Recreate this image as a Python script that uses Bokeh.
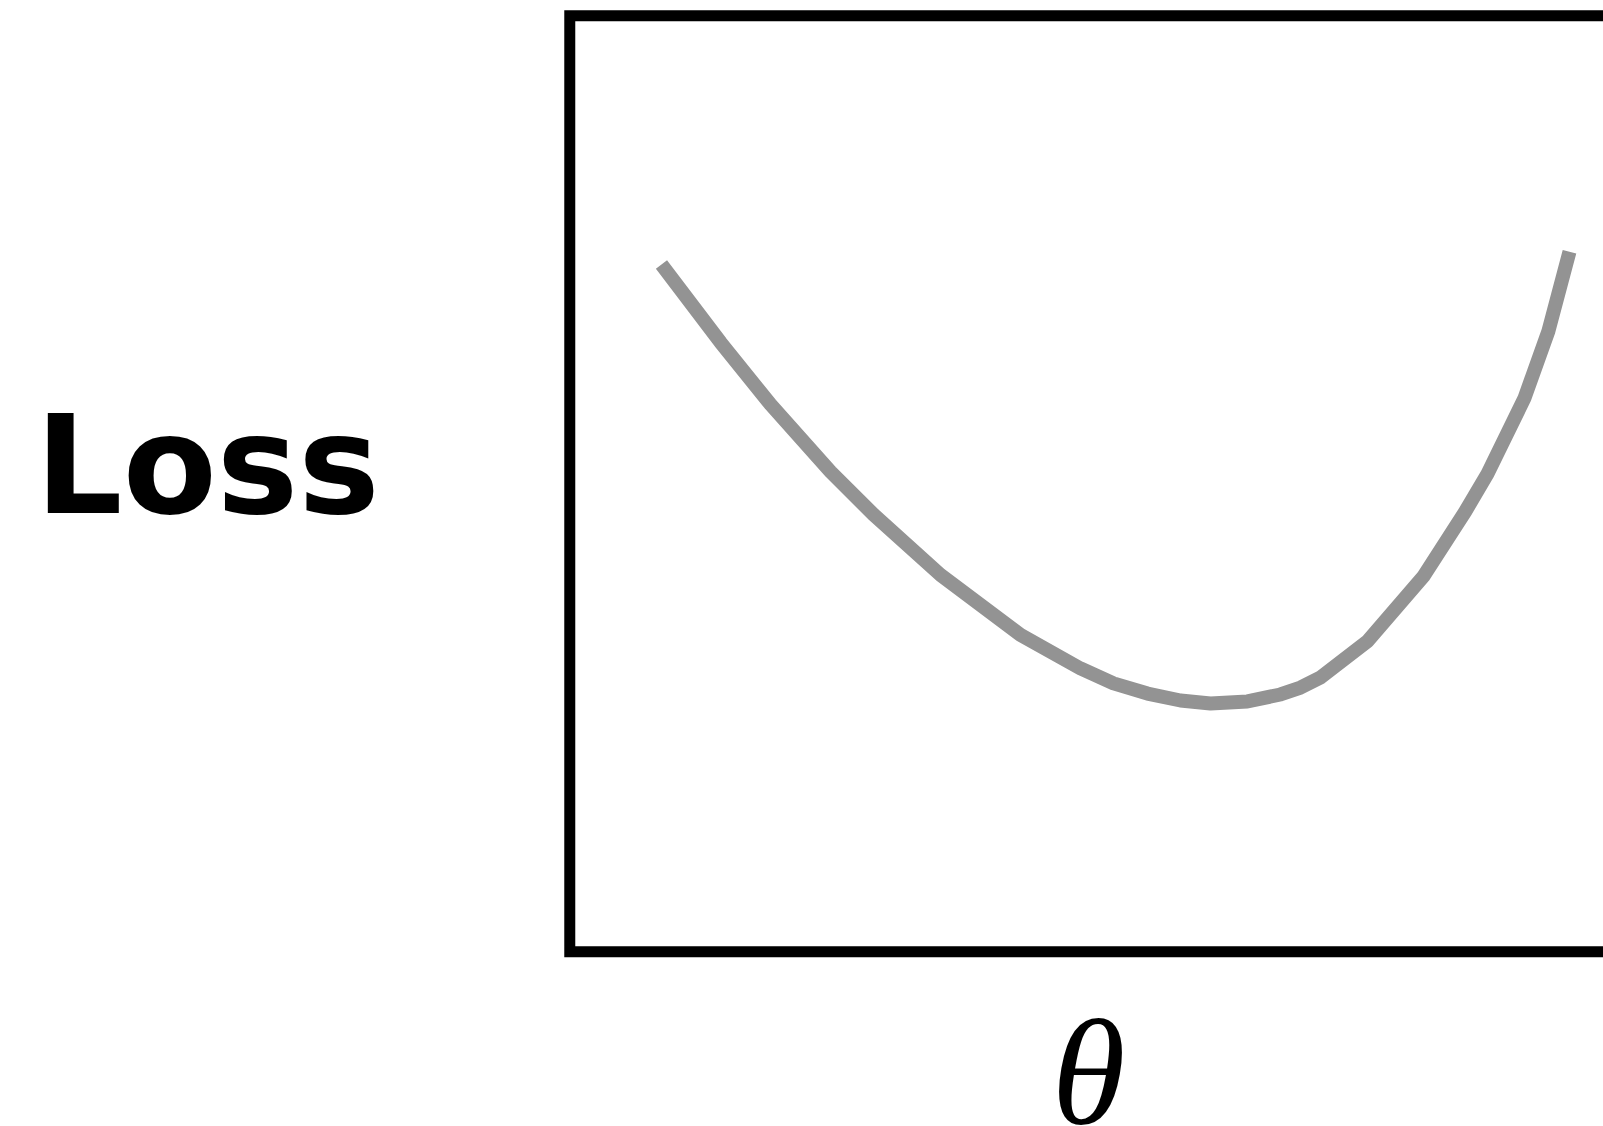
from bokeh.plotting import figure
from bokeh.models import Range1d
from bokeh.core.properties import value
from bokeh.embed import file_html
from bokeh.resources import INLINE

# Curve (theta, loss) in arbitrary units
theta = [0.887, 1.458, 1.942, 2.522, 2.938, 3.586, 4.360, 4.941, 5.260, 5.589,
         5.908, 6.198, 6.556, 6.875, 7.069, 7.262, 7.717, 8.259, 8.665, 8.878,
         9.236, 9.468, 9.671]
loss = [6.609, 5.860, 5.263, 4.617, 4.204, 3.624, 3.047, 2.724, 2.581, 2.483,
        2.416, 2.388, 2.407, 2.474, 2.541, 2.638, 2.986, 3.611, 4.237, 4.596,
        5.325, 5.971, 6.731]

x_label = "θ"
y_label = "Loss"

# axes box (data units): left/bottom at 0, top at 9, right edge beyond the view
box_left, box_right, box_bottom, box_top = 0.0, 10.4, 0.0, 9.0

p = figure(width=1603, height=1126,
           x_range=Range1d(-5.507, 10.0), y_range=Range1d(-1.680, 9.147),
           output_backend="svg", toolbar_location=None,
           x_axis_location=None, y_axis_location=None,
           min_border=0, min_border_left=0, min_border_right=0,
           min_border_top=0, min_border_bottom=0)
p.outline_line_color = None
p.background_fill_color = "white"
p.border_fill_color = "white"
for g in p.grid:
    g.visible = False

# box
p.line([box_right, box_left, box_left, box_right], [box_top, box_top, box_bottom, box_bottom],
       line_color="black", line_width=11, line_join="miter")

# loss curve
p.line(theta, loss, line_color="#939393", line_width=14, line_join="round")

# labels
p.text(x=[-5.170], y=[4.680], text=[y_label], text_font=value("DejaVu Sans"), text_font_style="bold",
       text_font_size="137px", text_color="black", text_align="left", text_baseline="alphabetic")
p.text(x=[5.018], y=[-1.161], text=[x_label], text_font=value("Liberation Serif"),
       text_font_style="italic", text_font_size="150px", text_color="black",
       text_align="center", text_baseline="alphabetic")

open("out.html", "w").write(file_html(p, INLINE))
